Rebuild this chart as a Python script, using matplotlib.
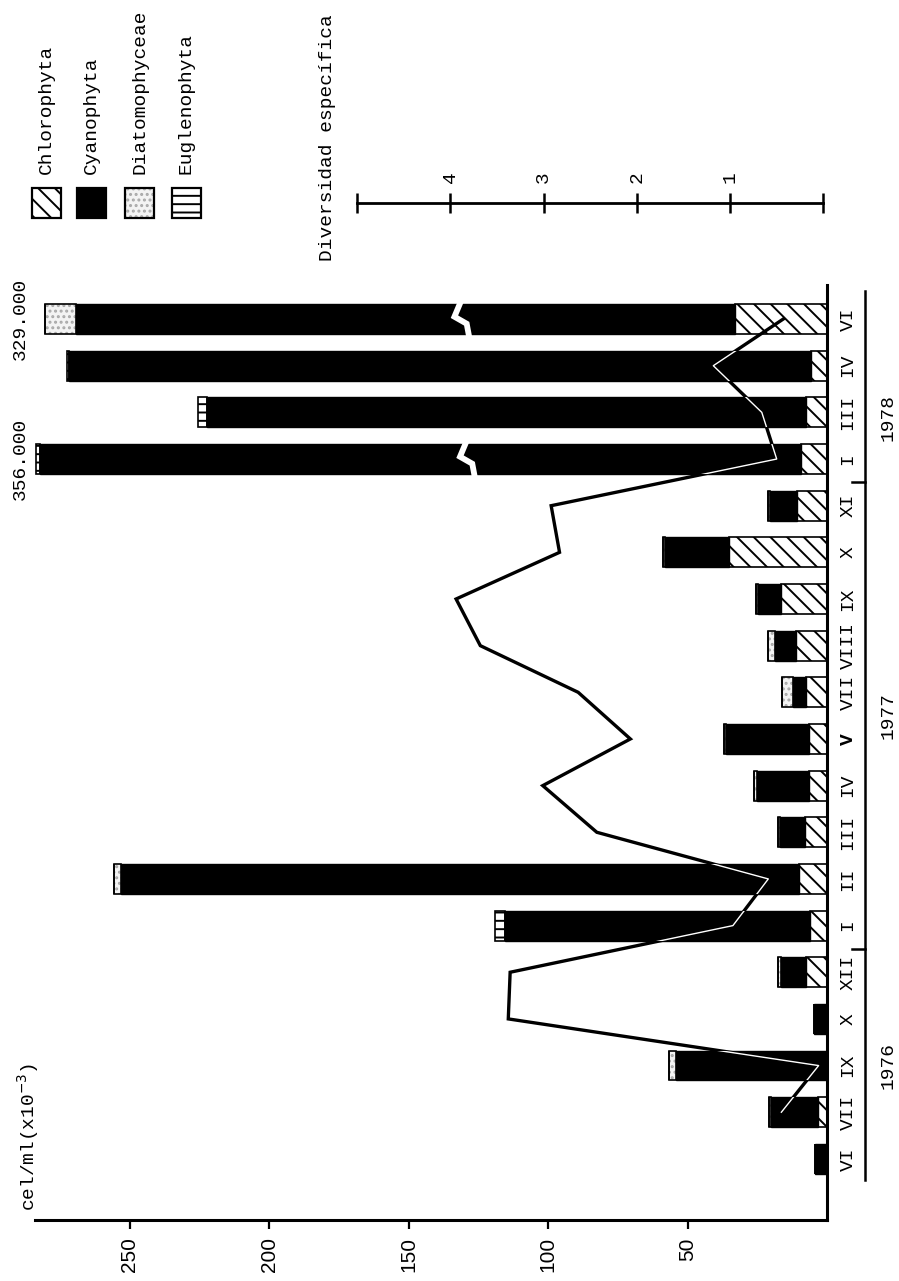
import numpy as np
import matplotlib
matplotlib.use('Agg')
import matplotlib.pyplot as plt
from matplotlib.path import Path
from matplotlib.patches import Rectangle
import matplotlib.transforms as mtransforms

# ---------------- data (cel/ml x 10^3) ----------------
months = ['VI', 'VII', 'IX', 'X', 'XII', 'I', 'II', 'III', 'IV', 'V',
          'VII', 'VIII', 'IX', 'X', 'XI', 'I', 'III', 'IV', 'VI']
chlorophyta = [0, 3.2, 0, 0, 7.7, 6.0, 9.9, 8.0, 6.6, 6.6,
               7.7, 11.0, 16.4, 35.0, 10.7, 9.2, 7.5, 5.9, 33.0]
cyanophyta = [4.2, 16.8, 54.2, 4.5, 8.9, 109.6, 243.1, 8.8, 18.6, 29.6,
              4.5, 7.8, 8.2, 23.1, 9.7, 345.3, 215.0, 265.8, 285.0]
diatomophyceae = [0, 0.8, 2.5, 0, 0.8, 0, 2.6, 0.8, 0.8, 0.8,
                  3.8, 2.4, 0.8, 0.8, 0.8, 0, 0, 0, 11.0]
euglenophyta = [0, 0, 0, 0, 0, 3.6, 0, 0, 0, 0,
                0, 0, 0, 0, 0, 1.5, 3.0, 1.0, 0]
diversity = [np.nan, 0.45, 0.05, 3.38, 3.36, 0.97, 0.59, 2.43, 3.01, 2.07,
             2.63, 3.68, 3.94, 2.83, 2.92, 0.50, 0.66, 1.18, 0.43]
years = ['1976', '1977', '1978']
year_bounds = [-0.45, 4.5, 14.5, 18.6]
year_label_pos = [2.0, 9.5, 15.9]
broken_labels = {15: '356.000', 18: '329.000'}
broken_shown_total = {15: 283.6, 18: 280.3}
legend_names = ['Chlorophyta', 'Cyanophyta', 'Diatomophyceae', 'Euglenophyta']
value_ticks = [50, 100, 150, 200, 250]
diversity_ticks = [0, 1, 2, 3, 4, 5]

# ---------------- layout ----------------
W, H = 899, 1281
fig = plt.figure(figsize=(W / 100, H / 100), dpi=100)
plt.rcParams['hatch.linewidth'] = 1.4


def fx(px):
    return px / W


def fy(py):
    return 1 - py / H


MONO = ['Liberation Mono', 'DejaVu Sans Mono']
SANS = ['Liberation Sans', 'DejaVu Sans']
DIA_FACE = '#f3f3f3'
DIA_DOTS = '#a8a8a8'

ax = fig.add_axes([fx(35), fy(1220), fx(827) - fx(35), fy(285) - fy(1220)])
ax.set_xlim(284, 0)
ax.set_ylim(-1.31, 18.73)

pos = np.arange(len(months))
chl = np.array(chlorophyta, float)
cya = np.array(cyanophyta, float)
dia = np.array(diatomophyceae, float)
eug = np.array(euglenophyta, float)
total = chl + cya + dia + eug
cya_shown = cya.copy()
for i, shown in broken_shown_total.items():
    cya_shown[i] = cya[i] - (total[i] - shown)

bh = 0.64
ax.barh(pos, chl, height=bh, left=0, color='white', edgecolor='black',
        hatch='\\\\', linewidth=1.2, zorder=2)
ax.barh(pos, cya_shown, height=bh, left=chl, color='black', edgecolor='black',
        linewidth=1.0, zorder=2)
left_d = chl + cya_shown
ax.barh(pos, dia, height=bh, left=left_d, color=DIA_FACE, edgecolor=DIA_DOTS,
        hatch='...', linewidth=0, zorder=2)
ax.barh(pos, dia, height=bh, left=left_d, fill=False, edgecolor='black',
        linewidth=1.2, zorder=2.1)
left_e = left_d + dia
ax.barh(pos, eug, height=bh, left=left_e, color='white', edgecolor='black',
        hatch='--', linewidth=1.2, zorder=2)

# break marks on very long bars
zig_dy = np.array([0.42, 0.05, -0.1, -0.42])
zig_dv = np.array([1.0, 3.6, -0.8, -1.8])
for i in broken_shown_total:
    centre = 130 if i == 18 else 128
    ax.plot(centre + zig_dv, i + zig_dy, color='white', lw=4.2,
            solid_joinstyle='miter', zorder=3)

# axes styling
for s in ['left', 'top']:
    ax.spines[s].set_visible(False)
ax.spines['bottom'].set_linewidth(2.2)
ax.spines['right'].set_linewidth(2.2)
ax.set_xticks(value_ticks)
ax.set_xticklabels([str(v) for v in value_ticks], rotation=90,
                   family=SANS, fontsize=15)
ax.tick_params(axis='x', direction='out', length=6.5, width=1.6, pad=6)
ax.yaxis.tick_right()
ax.set_yticks(pos)
ax.set_yticklabels(months, rotation=90, va='center', family=MONO, fontsize=14)
ax.tick_params(axis='y', length=0, pad=9)
ax.get_yticklabels()[9].set_fontweight('bold')

# diversity line
ax2 = ax.twiny()
ax2.set_xlim(8.458, -0.0397)
ax2.set_axis_off()
ax2.plot(diversity, pos, color='black', lw=2.4, solid_joinstyle='miter', zorder=5)
white_line, = ax2.plot(diversity, pos, color='white', lw=1.0, zorder=6)
verts, codes = [], []
for i in pos:
    if cya_shown[i] <= 0:
        continue
    x0, x1 = chl[i], chl[i] + cya_shown[i]
    y0, y1 = i - bh / 2, i + bh / 2
    verts += [(x0, y0), (x1, y0), (x1, y1), (x0, y1), (x0, y0)]
    codes += [Path.MOVETO, Path.LINETO, Path.LINETO, Path.LINETO, Path.CLOSEPOLY]
white_line.set_clip_path(Path(verts, codes), ax.transData)

# diversity scale
axd = fig.add_axes([fx(35), fy(203), fx(827) - fx(35), 0.0001])
axd.set_xlim(8.458, -0.0397)
axd.patch.set_visible(False)
for s in ['left', 'right', 'top']:
    axd.spines[s].set_visible(False)
axd.spines['bottom'].set_bounds(0, 5)
axd.spines['bottom'].set_linewidth(2.0)
axd.set_yticks([])
axd.set_xticks(diversity_ticks)
axd.tick_params(axis='x', direction='inout', length=14, width=1.8, labelbottom=False)
tr_d = mtransforms.blended_transform_factory(axd.transData, fig.transFigure)
for d in diversity_ticks[1:-1]:
    axd.text(d, fy(177), str(d), transform=tr_d, rotation=90, ha='center',
             va='center', family=MONO, fontsize=14)
fig.text(fx(328), fy(138), 'Diversidad específica', rotation=90, ha='center',
         va='center', family=MONO, fontsize=14)

# years bracket
tr_y = mtransforms.blended_transform_factory(fig.transFigure, ax.transData)
ax.plot([fx(865), fx(865)], [year_bounds[0], year_bounds[-1]], color='black',
        lw=1.8, transform=tr_y, clip_on=False)
for b in year_bounds[1:-1]:
    ax.plot([fx(852), fx(865)], [b, b], color='black', lw=1.8,
            transform=tr_y, clip_on=False)
for yl, yp in zip(years, year_label_pos):
    ax.text(fx(888), yp, yl, transform=tr_y, rotation=90, ha='center',
            va='center', family=MONO, fontsize=14)

# labels of broken bars
for i, lab in broken_labels.items():
    ax.text(fx(20), i, lab, transform=tr_y, rotation=90, ha='center',
            va='center', family=MONO, fontsize=14)

# unit label
fig.text(fx(28), fy(1137), r'cel/ml(x10$^{-3}$)', rotation=90, ha='center',
         va='center', family=MONO, fontsize=14)

# legend
leg_left = [32, 77, 125, 172]
styles = [dict(facecolor='white', hatch='\\\\'),
          dict(facecolor='black', hatch=None),
          dict(facecolor=DIA_FACE, hatch='...'),
          dict(facecolor='white', hatch='--')]
for name, lx, st in zip(legend_names, leg_left, styles):
    if st['hatch'] == '...':
        fig.add_artist(Rectangle((fx(lx), fy(218)), fx(29), fy(188) - fy(218),
                                 transform=fig.transFigure, facecolor=DIA_FACE,
                                 edgecolor=DIA_DOTS, hatch='...', linewidth=0))
        fig.add_artist(Rectangle((fx(lx), fy(218)), fx(29), fy(188) - fy(218),
                                 transform=fig.transFigure, fill=False,
                                 edgecolor='black', linewidth=1.6))
    else:
        fig.add_artist(Rectangle((fx(lx), fy(218)), fx(29), fy(188) - fy(218),
                                 transform=fig.transFigure, facecolor=st['facecolor'],
                                 edgecolor='black', hatch=st['hatch'], linewidth=1.6))
    fig.text(fx(lx + 14.5), fy(174), name, rotation=90, ha='center',
             va='bottom', family=MONO, fontsize=14)

fig.savefig('out.png', dpi=100)
